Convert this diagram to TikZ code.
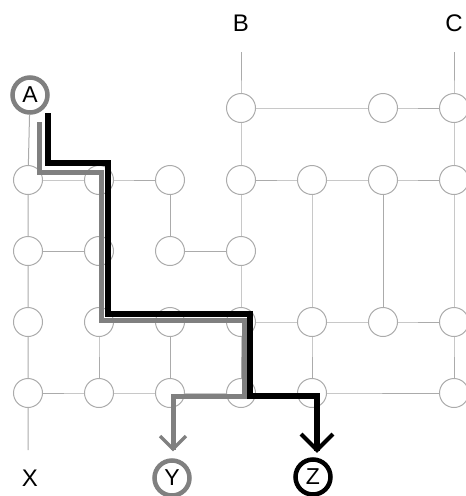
\documentclass[tikz,border=0pt]{standalone}
\usepackage{fontspec}
\setmainfont{Liberation Sans}
\definecolor{thin}{HTML}{ABABAB}
\definecolor{mid}{HTML}{808080}
\tikzset{
  gridnode/.style={circle, draw=thin, line width=1pt, fill=white, minimum size=29pt, inner sep=0pt},
  gridline/.style={draw=thin, line width=1pt},
  lbl/.style={font=\fontsize{24}{24}\selectfont, inner sep=0pt},
  endring/.style={circle, line width=4.5pt, minimum size=35pt, inner sep=0pt, font=\fontsize{23}{23}\selectfont},
  graypath/.style={draw=mid, line width=5pt, line join=miter},
  blackpath/.style={draw=black, line width=6pt, line join=miter},
  grayhead/.style={draw=mid, line width=3.5pt, line join=miter},
  blackhead/.style={draw=black, line width=4pt, line join=miter},
}
\begin{document}
\begin{tikzpicture}[x=1pt,y=-1pt]
\useasboundingbox (0,0) rectangle (466,496);
% columns and rows
\def\cA{28}\def\cB{99}\def\cC{170}\def\cD{241}\def\cE{312}\def\cF{383}\def\cG{454}
\def\rA{108}\def\rB{180}\def\rC{251}\def\rD{322}\def\rE{393}
% labels
\node[lbl] (B) at (\cD,23) {B};
\node[lbl] (C) at (\cG,23) {C};
\node[lbl] (X) at (30,478) {X};
\coordinate (Btop) at (\cD,52);
\coordinate (Ctop) at (\cG,52);
\coordinate (Xbot) at (\cA,450);
% nodes
\foreach \c/\x in {D/\cD,F/\cF,G/\cG} \coordinate (n\c1) at (\x,\rA);
\foreach \c/\x in {A/\cA,B/\cB,C/\cC,D/\cD,E/\cE,F/\cF,G/\cG} \coordinate (n\c2) at (\x,\rB);
\foreach \c/\x in {A/\cA,B/\cB,C/\cC,D/\cD} \coordinate (n\c3) at (\x,\rC);
\foreach \c/\x in {A/\cA,B/\cB,C/\cC,D/\cD,E/\cE,F/\cF,G/\cG} \coordinate (n\c4) at (\x,\rD);
\foreach \c/\x in {A/\cA,B/\cB,C/\cC,D/\cD,E/\cE,G/\cG} \coordinate (n\c5) at (\x,\rE);
\node[endring, draw=mid] (A) at (30,95) {A};
\node[endring, draw=mid] (Y) at (172,478) {Y};
\node[endring, draw=black] (Z) at (313,477) {Z};
% grid lines
\draw[gridline] (A) -- (nA2) -- (nA3) -- (nA4) -- (nA5) -- (Xbot);
\draw[gridline] (nB2) -- (nB3) -- (nB4) -- (nB5);
\draw[gridline] (nC2) -- (nC3);
\draw[gridline] (nC4) -- (nC5);
\draw[gridline] (Btop) -- (nD1) -- (nD2) -- (nD3) -- (nD4) -- (nD5);
\draw[gridline] (nE2) -- (nE4) -- (nE5);
\draw[gridline] (nF2) -- (nF4);
\draw[gridline] (Ctop) -- (nG1) -- (nG2) -- (nG4) -- (nG5);
\draw[gridline] (nD1) -- (nF1) -- (nG1);
\draw[gridline] (nA2) -- (nB2) -- (nC2);
\draw[gridline] (nD2) -- (nE2) -- (nF2) -- (nG2);
\draw[gridline] (nA3) -- (nB3);
\draw[gridline] (nC3) -- (nD3);
\draw[gridline] (nB4) -- (nC4) -- (nD4) -- (nE4) -- (nF4) -- (nG4);
\draw[gridline] (nA5) -- (nB5) -- (nC5) -- (nD5) -- (nE5) -- (nG5);
% circles
\foreach \n in {D1,F1,G1,A2,B2,C2,D2,E2,F2,G2,A3,B3,C3,D3,A4,B4,C4,D4,E4,F4,G4,A5,B5,C5,D5,E5,G5}
  \node[gridnode] (c\n) at (n\n) {};
% paths
\coordinate (gs) at (39,122);
\coordinate (bs) at (48,113);
\coordinate (gt) at (173,450);
\coordinate (bt) at (317,451);
\draw[graypath] (gs) -- (39,172) -- (101,172) -- (101,320) -- (244,320) -- (244,396) -- (173,396) -- (gt);
\draw[blackpath] (bs) -- (48,163) -- (108,163) -- (108,314) -- (250,314) -- (250,396) -- (317,396) -- (bt);
\draw[grayhead] ([shift={(-13,-14)}]gt) -- ([yshift=1pt]gt) -- ([shift={(13,-14)}]gt);
\draw[blackhead] ([shift={(-16,-17)}]bt) -- ([yshift=1pt]bt) -- ([shift={(16,-17)}]bt);
\end{tikzpicture}
\end{document}
